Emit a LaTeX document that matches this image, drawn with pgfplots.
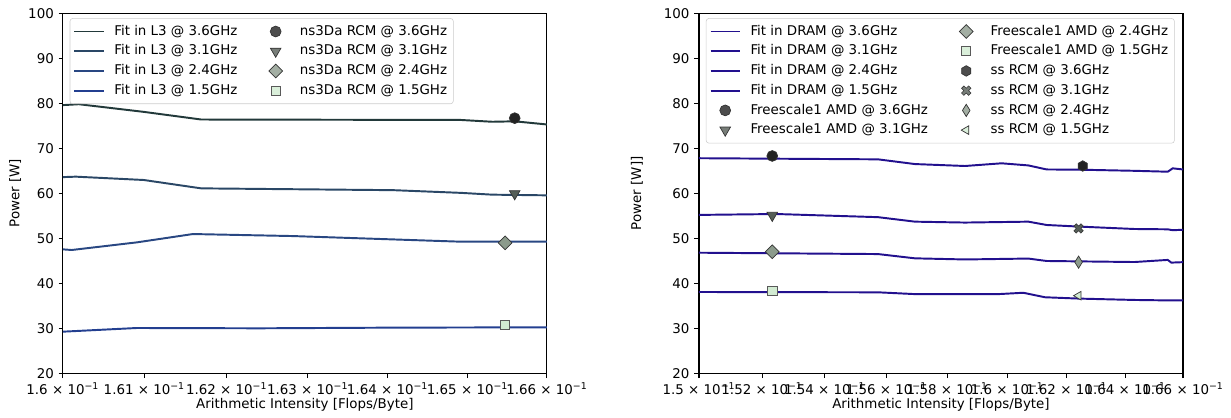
\documentclass[border=0pt]{standalone}
\usepackage{fontspec}
\setmainfont{DejaVu Sans}
\usepackage{pgfplots}
\pgfplotsset{compat=1.18}

% line colours
\definecolor{lthreeA}{HTML}{22393A}
\definecolor{lthreeB}{HTML}{2A4766}
\definecolor{lthreeC}{HTML}{294782}
\definecolor{lthreeD}{HTML}{233F90}
\definecolor{dram}{HTML}{22108E}
% marker colours
\definecolor{mkA}{HTML}{222222}
\definecolor{mkB}{HTML}{555E57}
\definecolor{mkC}{HTML}{8C9B8C}
\definecolor{mkD}{HTML}{D2EBD2}
\definecolor{mkEdge}{HTML}{333333}

% hexagon with a vertex on top
\pgfdeclareplotmark{hexagon*}{%
  \pgfpathmoveto{\pgfpointpolar{90}{\pgfplotmarksize}}%
  \pgfpathlineto{\pgfpointpolar{150}{\pgfplotmarksize}}%
  \pgfpathlineto{\pgfpointpolar{210}{\pgfplotmarksize}}%
  \pgfpathlineto{\pgfpointpolar{270}{\pgfplotmarksize}}%
  \pgfpathlineto{\pgfpointpolar{330}{\pgfplotmarksize}}%
  \pgfpathlineto{\pgfpointpolar{30}{\pgfplotmarksize}}%
  \pgfpathclose
  \pgfusepathqfillstroke}
% filled, thick X
\pgfdeclareplotmark{fatx}{%
  \pgftransformrotate{45}%
  \pgfpathmoveto{\pgfpoint{.33\pgfplotmarksize}{.33\pgfplotmarksize}}%
  \pgfpathlineto{\pgfpoint{.33\pgfplotmarksize}{\pgfplotmarksize}}%
  \pgfpathlineto{\pgfpoint{-.33\pgfplotmarksize}{\pgfplotmarksize}}%
  \pgfpathlineto{\pgfpoint{-.33\pgfplotmarksize}{.33\pgfplotmarksize}}%
  \pgfpathlineto{\pgfpoint{-\pgfplotmarksize}{.33\pgfplotmarksize}}%
  \pgfpathlineto{\pgfpoint{-\pgfplotmarksize}{-.33\pgfplotmarksize}}%
  \pgfpathlineto{\pgfpoint{-.33\pgfplotmarksize}{-.33\pgfplotmarksize}}%
  \pgfpathlineto{\pgfpoint{-.33\pgfplotmarksize}{-\pgfplotmarksize}}%
  \pgfpathlineto{\pgfpoint{.33\pgfplotmarksize}{-\pgfplotmarksize}}%
  \pgfpathlineto{\pgfpoint{.33\pgfplotmarksize}{-.33\pgfplotmarksize}}%
  \pgfpathlineto{\pgfpoint{\pgfplotmarksize}{-.33\pgfplotmarksize}}%
  \pgfpathlineto{\pgfpoint{\pgfplotmarksize}{.33\pgfplotmarksize}}%
  \pgfpathclose
  \pgfusepathqfillstroke}

% series styles
\tikzset{
  fitline/.style={line width=1.4pt, mark=none},
  mcircle/.style={mark=*, mark size=3.9pt, mark options={fill=mkA, draw=mkEdge, line width=0.5pt}},
  mtri/.style={mark=triangle*, mark size=4.4pt, mark options={rotate=180, fill=mkB, draw=mkEdge, line width=0.5pt}},
  mdiam/.style={mark=square*, mark size=3.5pt, mark options={rotate=45, fill=mkC, draw=mkEdge, line width=0.5pt}},
  msq/.style={mark=square*, mark size=3.3pt, mark options={fill=mkD, draw=black!65, line width=0.5pt}},
  mhex/.style={mark=hexagon*, mark size=3.8pt, mark options={fill=mkA, draw=mkEdge, line width=0.5pt}},
  mx/.style={mark=fatx, mark size=3.6pt, mark options={fill=mkB, draw=mkEdge, line width=0.4pt}},
  mthin/.style={mark=diamond*, mark size=4.4pt, mark options={xscale=0.83, fill=mkC, draw=mkEdge, line width=0.5pt}},
  mleft/.style={mark=triangle*, mark size=3.6pt, mark options={rotate=90, fill=mkD, draw=mkEdge, line width=0.5pt}},
}

% legend handles: a 21pt wide cell, markers centred on it
\pgfplotsset{legend image code/.code={%
  \draw[mark repeat=2, mark phase=2, #1] plot coordinates {(0pt,0pt) (10.5pt,0pt) (21pt,0pt)};
  \path[draw=none, fill=none] (0pt,0pt) -- (21pt,0pt);}}
% gap after an entry of the first legend column
\newcommand{\colgap}{\rule{10pt}{0pt}}

\pgfplotsset{
  every axis/.append style={
    scale only axis, width=348.5pt, height=259.2pt,
    ymin=20, ymax=100, ytick={20,30,...,100},
    /pgf/number format/assume math mode=true,
    tick align=outside, tick pos=left, major tick length=3.5pt,
    axis line style={line width=0.8pt},
    every tick/.style={black, line width=0.8pt},
    legend columns=2, legend cell align=left,
    legend style={at={(rel axis cs:0,1)}, anchor=north west, xshift=5pt, yshift=-3.5pt,
      draw=black!20, rounded corners=2pt, fill=white, fill opacity=0.8, text opacity=1,
      inner sep=2.5pt, row sep=0.4pt, column sep=5pt,
      nodes={inner sep=2pt, text height=7.6pt, text depth=2.2pt}},
  },
  every axis x label/.style={at={(rel axis cs:0.5,0)}, yshift=-22.8pt, anchor=center},
}

\begin{document}
\fontsize{9.65pt}{11.6pt}\selectfont
\begin{tikzpicture}
% x values are given in units of 10^-1 Flops/Byte
% ---------------- L3 fits and ns3Da measurements ----------------
\begin{axis}[name=L, xmode=log,
  xmin=1.6, xmax=1.66,
  xtick={1.6,1.61,1.62,1.63,1.64,1.65,1.66},
  xticklabels={1.6 × 10\textsuperscript{−1},1.61 × 10\textsuperscript{−1},1.62 × 10\textsuperscript{−1},1.63 × 10\textsuperscript{−1},1.64 × 10\textsuperscript{−1},1.65 × 10\textsuperscript{−1},1.66 × 10\textsuperscript{−1}},
  every axis y label/.style={at={(rel axis cs:0,0.5)}, xshift=-34.3pt, rotate=90, anchor=center},
  xlabel={Arithmetic Intensity [Flops/Byte]},
  ylabel={Power [W]},
]
\addplot[fitline, color=lthreeA, forget plot] coordinates {(1.6,79.6) (1.6019,79.8) (1.6098,78.1) (1.6169,76.4) (1.6491,76.3) (1.6530,75.9) (1.6558,76.0) (1.66,75.3)};
\addplot[fitline, color=lthreeB, forget plot] coordinates {(1.6,63.6) (1.6016,63.7) (1.6098,62.96) (1.6169,61.1) (1.6407,60.7) (1.6491,60.1) (1.6530,59.7) (1.66,59.55)};
\addplot[fitline, color=lthreeC, forget plot] coordinates {(1.6,47.55) (1.6011,47.4) (1.6090,49.1) (1.6159,50.95) (1.6282,50.5) (1.6491,49.25) (1.66,49.25)};
\addplot[fitline, color=lthreeD, forget plot] coordinates {(1.6,29.25) (1.6090,30.07) (1.6241,30.0) (1.6407,30.15) (1.6547,30.2) (1.66,30.2)};
\addplot[only marks, mcircle, forget plot] coordinates {(1.6558,76.7)};
\addplot[only marks, mtri, forget plot] coordinates {(1.6558,59.9)};
\addplot[only marks, mdiam, forget plot] coordinates {(1.6547,49.0)};
\addplot[only marks, msq, forget plot] coordinates {(1.6547,30.7)};
\addlegendimage{fitline, color=lthreeA}\addlegendentry{Fit in L3 @ 3.6GHz\colgap}
\addlegendimage{only marks, mcircle}\addlegendentry{ns3Da RCM @ 3.6GHz}
\addlegendimage{fitline, color=lthreeB}\addlegendentry{Fit in L3 @ 3.1GHz\colgap}
\addlegendimage{only marks, mtri}\addlegendentry{ns3Da RCM @ 3.1GHz}
\addlegendimage{fitline, color=lthreeC}\addlegendentry{Fit in L3 @ 2.4GHz\colgap}
\addlegendimage{only marks, mdiam}\addlegendentry{ns3Da RCM @ 2.4GHz}
\addlegendimage{fitline, color=lthreeD}\addlegendentry{Fit in L3 @ 1.5GHz\colgap}
\addlegendimage{only marks, msq}\addlegendentry{ns3Da RCM @ 1.5GHz}
\end{axis}

% ---------------- DRAM fits, Freescale1 and ss measurements ----------------
\begin{axis}[xmode=log, at={(458.1pt,0pt)}, anchor=south west,
  xmin=1.5, xmax=1.66,
  xtick={1.5,1.52,1.54,1.56,1.58,1.6,1.62,1.64,1.66},
  xticklabels={1.5 × 10\textsuperscript{−1},1.52 × 10\textsuperscript{−1},1.54 × 10\textsuperscript{−1},1.56 × 10\textsuperscript{−1},1.58 × 10\textsuperscript{−1},1.6 × 10\textsuperscript{−1},1.62 × 10\textsuperscript{−1},1.64 × 10\textsuperscript{−1},1.66 × 10\textsuperscript{−1}},
  every axis y label/.style={at={(rel axis cs:0,0.5)}, xshift=-44.6pt, rotate=90, anchor=center},
  xlabel={Arithmetic Intensity [Flops/Byte]},
  ylabel={Power [W]]},
]
\addplot[fitline, color=dram, forget plot] coordinates {(1.5,67.8) (1.5573,67.55) (1.5694,66.5) (1.5859,66.07) (1.5981,66.67) (1.6071,66.2) (1.6133,65.3) (1.6244,65.25) (1.6432,65.0) (1.6546,64.8) (1.6564,65.55) (1.66,65.3)};
\addplot[fitline, color=dram, forget plot] coordinates {(1.5,55.2) (1.5245,55.4) (1.5573,54.7) (1.5694,53.7) (1.5859,53.5) (1.6071,53.7) (1.6133,52.96) (1.6244,52.6) (1.6432,52.07) (1.6546,52.0) (1.6564,51.8) (1.66,51.9)};
\addplot[fitline, color=dram, forget plot] coordinates {(1.5,46.8) (1.5573,46.5) (1.5694,45.55) (1.5859,45.3) (1.6071,45.5) (1.6133,44.96) (1.6432,44.73) (1.6546,45.2) (1.6558,44.6) (1.66,44.7)};
\addplot[fitline, color=dram, forget plot] coordinates {(1.5,38.07) (1.5573,38.0) (1.5694,37.6) (1.5970,37.6) (1.6054,37.9) (1.6127,36.9) (1.6244,36.6) (1.6432,36.3) (1.6546,36.2) (1.66,36.2)};
\addplot[only marks, mcircle, forget plot] coordinates {(1.5232,68.3)};
\addplot[only marks, mtri, forget plot] coordinates {(1.5232,55.1)};
\addplot[only marks, mdiam, forget plot] coordinates {(1.5232,47.0)};
\addplot[only marks, msq, forget plot] coordinates {(1.5232,38.4)};
\addplot[only marks, mhex, forget plot] coordinates {(1.6255,66.07)};
\addplot[only marks, mx, forget plot] coordinates {(1.624,52.2)};
\addplot[only marks, mthin, forget plot] coordinates {(1.624,44.7)};
\addplot[only marks, mleft, forget plot] coordinates {(1.624,37.25)};
\addlegendimage{fitline, color=dram}\addlegendentry{Fit in DRAM @ 3.6GHz\colgap}
\addlegendimage{only marks, mdiam}\addlegendentry{Freescale1 AMD @ 2.4GHz}
\addlegendimage{fitline, color=dram}\addlegendentry{Fit in DRAM @ 3.1GHz\colgap}
\addlegendimage{only marks, msq}\addlegendentry{Freescale1 AMD @ 1.5GHz}
\addlegendimage{fitline, color=dram}\addlegendentry{Fit in DRAM @ 2.4GHz\colgap}
\addlegendimage{only marks, mhex}\addlegendentry{ss RCM @ 3.6GHz}
\addlegendimage{fitline, color=dram}\addlegendentry{Fit in DRAM @ 1.5GHz\colgap}
\addlegendimage{only marks, mx}\addlegendentry{ss RCM @ 3.1GHz}
\addlegendimage{only marks, mcircle}\addlegendentry{Freescale1 AMD @ 3.6GHz\colgap}
\addlegendimage{only marks, mthin}\addlegendentry{ss RCM @ 2.4GHz}
\addlegendimage{only marks, mtri}\addlegendentry{Freescale1 AMD @ 3.1GHz\colgap}
\addlegendimage{only marks, mleft}\addlegendentry{ss RCM @ 1.5GHz}
\end{axis}

\pgfresetboundingbox
\path (-45.14pt,-31.46pt) rectangle (841.18pt,268.78pt);
\end{tikzpicture}
\end{document}
